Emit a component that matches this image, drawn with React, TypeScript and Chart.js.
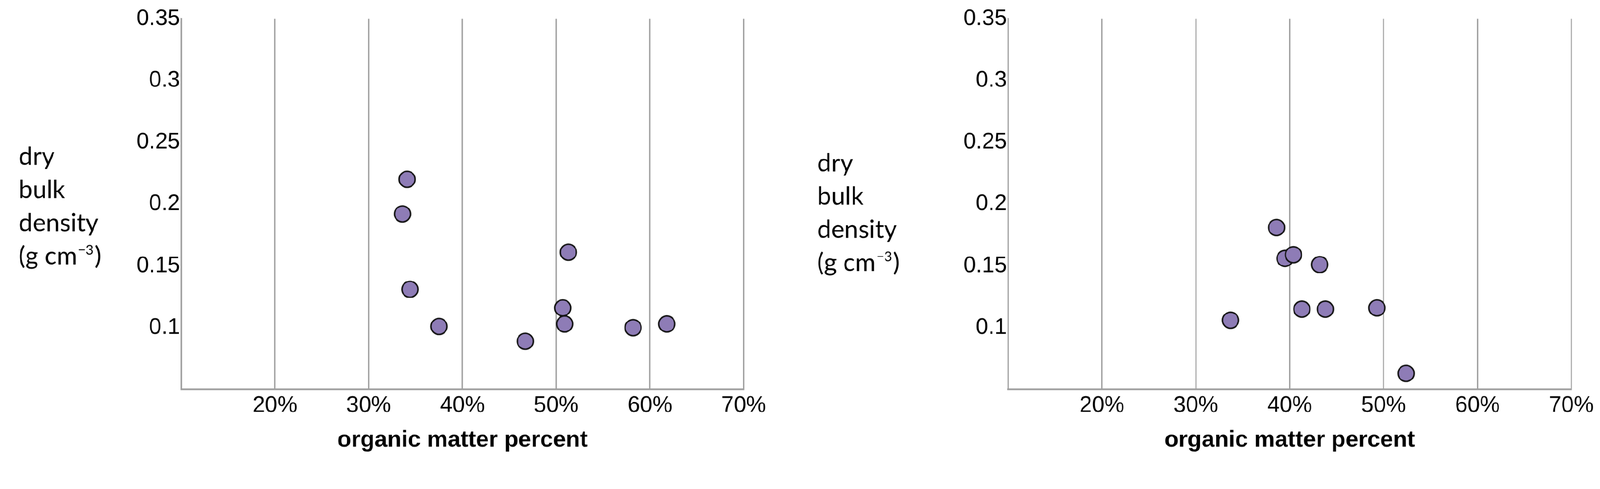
import React, { useEffect, useRef } from "react";
import { Chart, registerables } from "chart.js";

Chart.register(...registerables);

// ---- data ----
const LEFT_OM = [0.341, 0.336, 0.513, 0.344, 0.375, 0.507, 0.509, 0.467, 0.582, 0.618];
const LEFT_DBD = [0.22, 0.192, 0.161, 0.131, 0.101, 0.116, 0.103, 0.089, 0.1, 0.103];
const RIGHT_OM = [0.386, 0.395, 0.404, 0.432, 0.337, 0.413, 0.438, 0.493, 0.524];
const RIGHT_DBD = [0.181, 0.156, 0.159, 0.151, 0.106, 0.115, 0.115, 0.116, 0.063];

const X_MIN = 0.1;
const X_MAX = 0.7;
const X_STEP = 0.1;
const Y_MIN = 0.05;
const Y_MAX = 0.35;
const Y_STEP = 0.05;
const X_HIDDEN_TICKS = [0.1];
const Y_HIDDEN_TICKS = [0.05];

const X_TITLE = "organic matter percent";
const Y_TITLE_LINES = ["dry", "bulk", "density"];
const Y_UNIT = ["(g cm", "\u22123", ")"];

const PAGE_W = 4292;
const PAGE_H = 1253;
const PANEL_W = 2146;

const GRID = "#9e9e9e";
const FILL = "#8e7cb6";
const EDGE = "#141414";
const ARIAL = "'Liberation Sans', Arial, sans-serif";
const CAL = "Lato, 'Open Sans', sans-serif";

const yTitlePlugin = {
  id: "yTitleBlock",
  afterDraw(chart: any, _args: any, opts: any) {
    const ctx = chart.ctx;
    ctx.save();
    ctx.fillStyle = "#000";
    ctx.textAlign = "left";
    ctx.textBaseline = "alphabetic";
    const main = `${opts.size}px ${CAL}`;
    ctx.font = main;
    const b0 = opts.firstBaseline;
    const step = opts.lineStep;
    Y_TITLE_LINES.forEach((t, i) => ctx.fillText(t, opts.x, b0 + i * step));
    const ub = b0 + Y_TITLE_LINES.length * step;
    let x = opts.x;
    ctx.fillText(Y_UNIT[0], x, ub);
    x += ctx.measureText(Y_UNIT[0]).width + 2;
    ctx.font = `${opts.supSize}px ${CAL}`;
    ctx.fillText(Y_UNIT[1], x, ub - opts.supRaise);
    x += ctx.measureText(Y_UNIT[1]).width + 3;
    ctx.font = main;
    ctx.fillText(Y_UNIT[2], x, ub);
    ctx.restore();
  },
};

const near = (v: number, list: number[]) => list.some((h) => Math.abs(h - v) < 1e-6);

type Props = {
  om: number[];
  dbd: number[];
  yWidth: number;
  padRight: number;
  titleX: number;
  firstBaseline: number;
  pr: number;
};

function ScatterPanel({ om, dbd, yWidth, padRight, titleX, firstBaseline, pr }: Props) {
  const ref = useRef<HTMLCanvasElement | null>(null);
  useEffect(() => {
    if (!ref.current) return;
    const chart = new Chart(ref.current, {
      type: "scatter",
      data: {
        datasets: [
          {
            data: om.map((x, i) => ({ x, y: dbd[i] })),
            backgroundColor: FILL,
            borderColor: EDGE,
            borderWidth: 4,
            pointRadius: 21.5,
            pointHoverRadius: 21.5,
            clip: false as any,
          },
        ],
      },
      options: {
        animation: false,
        responsive: false,
        devicePixelRatio: pr,
        layout: { padding: { left: 0, right: padRight, top: 50, bottom: 40 } },
        plugins: {
          legend: { display: false },
          tooltip: { enabled: false },
          yTitleBlock: {
            x: titleX,
            firstBaseline,
            lineStep: 89,
            size: 67,
            supSize: 36,
            supRaise: 26,
          },
        } as any,
        scales: {
          x: {
            type: "linear",
            min: X_MIN,
            max: X_MAX,
            afterFit: (s: any) => {
              s.height = 168;
            },
            ticks: {
              stepSize: X_STEP,
              autoSkip: false,
              maxRotation: 0,
              padding: 8,
              color: "#000",
              font: { family: ARIAL, size: 60 },
              callback: (v: any) => (near(Number(v), X_HIDDEN_TICKS) ? "" : Math.round(Number(v) * 100) + "%"),
            },
            grid: { display: true, color: GRID, lineWidth: 3.5, drawTicks: false },
            border: { display: true, color: GRID, width: 4.5 },
            title: {
              display: true,
              text: X_TITLE,
              color: "#000",
              font: { family: ARIAL, size: 62, weight: "bold", lineHeight: 1 },
              padding: { top: 0, bottom: 0 },
            },
          },
          y: {
            type: "linear",
            min: Y_MIN,
            max: Y_MAX,
            afterFit: (s: any) => {
              s.width = yWidth;
            },
            ticks: {
              stepSize: Y_STEP,
              autoSkip: false,
              padding: 3,
              color: "#000",
              font: { family: ARIAL, size: 60 },
              callback: (v: any) => {
                const n = Number(v);
                if (near(n, Y_HIDDEN_TICKS)) return "";
                return String(parseFloat(n.toFixed(2)));
              },
            },
            grid: { display: false, drawTicks: false },
            border: { display: true, color: GRID, width: 4 },
          },
        },
      },
      plugins: [yTitlePlugin],
    });
    return () => chart.destroy();
  }, [om, dbd, yWidth, padRight, titleX, firstBaseline, pr]);
  return (
    <canvas
      ref={ref}
      width={PANEL_W}
      height={PAGE_H}
      style={{ display: "block", width: PANEL_W, height: PAGE_H, flex: "0 0 auto" }}
    />
  );
}

export default function App() {
  const vw = typeof window !== "undefined" ? window.innerWidth : PAGE_W;
  const vh = typeof window !== "undefined" ? window.innerHeight : PAGE_H;
  const s = Math.min(vw / PAGE_W, vh / PAGE_H) || 1;
  const dpr = (typeof window !== "undefined" && window.devicePixelRatio) || 1;
  const pr = s * dpr;
  return (
    <div
      style={{
        position: "fixed",
        left: 0,
        top: 0,
        width: PAGE_W,
        height: PAGE_H,
        background: "#fff",
        display: "flex",
        overflow: "hidden",
        transform: `scale(${s})`,
        transformOrigin: "0 0",
      }}
    >
      <ScatterPanel om={LEFT_OM} dbd={LEFT_DBD} yWidth={486} padRight={151} titleX={50} firstBaseline={442} pr={pr} />
      <ScatterPanel om={RIGHT_OM} dbd={RIGHT_DBD} yWidth={558} padRight={77} titleX={46} firstBaseline={460} pr={pr} />
    </div>
  );
}
